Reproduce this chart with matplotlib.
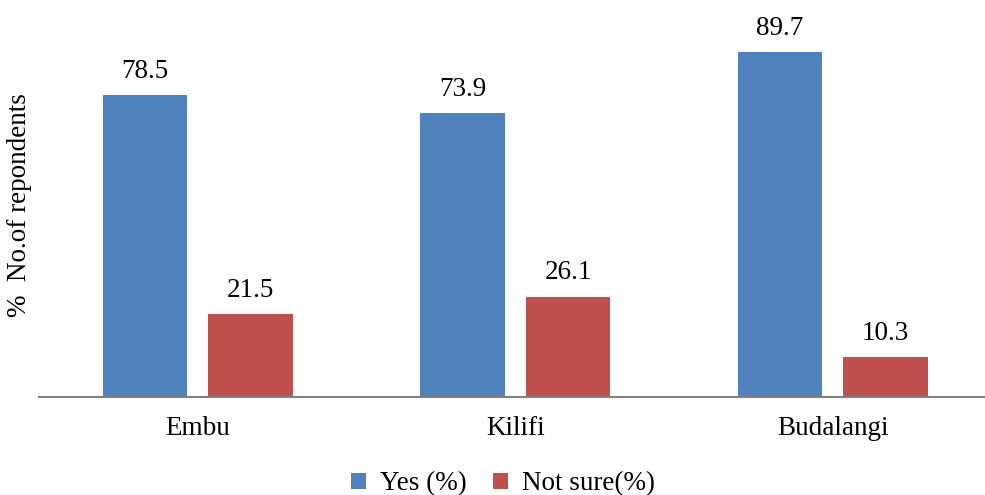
import matplotlib.pyplot as plt
import numpy as np

plt.rcParams["font.family"] = ["Liberation Serif", "DejaVu Serif"]

sites = ["Embu", "Kilifi", "Budalangi"]
yes_pct = [78.5, 73.9, 89.7]
not_sure_pct = [21.5, 26.1, 10.3]

blue = "#4F81BD"
red = "#C0504D"
fs = 19.5

fig = plt.figure(figsize=(9.85, 4.95), dpi=100)
ax = fig.add_axes([39 / 985, 98 / 495, 952.5 / 985, 377 / 495])

x = np.arange(len(sites))
w = 0.265
off = 0.166
b1 = ax.bar(x - off, yes_pct, w, color=blue, label="Yes (%)")
b2 = ax.bar(x + off, not_sure_pct, w, color=red, label="Not sure(%)")

# value labels above each bar
for bars, vals in ((b1, yes_pct), (b2, not_sure_pct)):
    for rect, v in zip(bars, vals):
        ax.annotate(f"{v:.1f}", (rect.get_x() + rect.get_width() / 2, v),
                    xytext=(0, 8), textcoords="offset points",
                    ha="center", va="bottom", fontsize=fs)

ax.set_xlim(-0.5, 2.5)
ax.set_ylim(0, 98)
ax.set_xticks(x)
ax.set_xticklabels(sites, fontsize=fs)
ax.tick_params(axis="x", length=0, pad=14)
ax.set_yticks([])
for side in ("top", "right", "left"):
    ax.spines[side].set_visible(False)
ax.spines["bottom"].set_color("#808080")
ax.spines["bottom"].set_linewidth(1.5)

fig.text(20 / 985, 1 - 205 / 495, "%  No.of repondents", rotation=90,
         ha="center", va="center", fontsize=fs)

fig.legend(handles=[b1, b2], loc="center", bbox_to_anchor=(503 / 985, 1 - 484 / 495),
           ncol=2, frameon=False, fontsize=fs, handlelength=0.55, handleheight=0.55,
           handletextpad=0.5, columnspacing=1.0)

fig.savefig("out.png", dpi=100)
